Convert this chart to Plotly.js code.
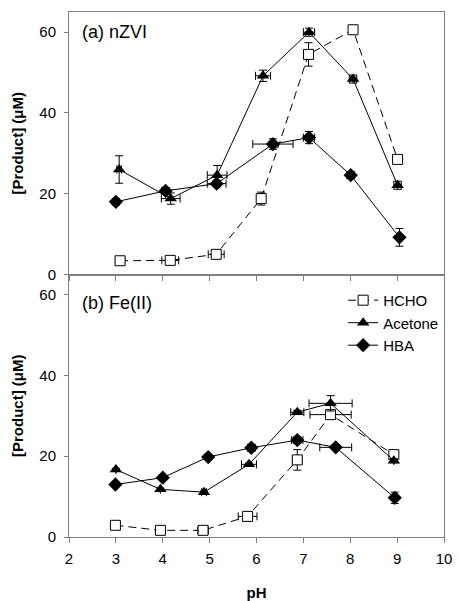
<!DOCTYPE html>
<html>
<head>
<meta charset="utf-8">
<script src="https://cdn.plot.ly/plotly-3.0.1.min.js"></script>
<style>html,body{margin:0;padding:0;background:#fff;}#chart{width:459px;height:601px;}</style>
</head>
<body>
<div id="chart"></div>
<script>
// ---- Data: (a) nZVI ----
var nzviHchoX   = [3.09, 4.16, 5.14, 6.10, 7.11, 8.06, 9.01];
var nzviHchoY   = [3.4, 3.5, 5.0, 18.8, 54.5, 60.6, 28.5];
var nzviHchoXe  = [0.10, 0.18, 0.17, 0.08, 0.08, 0.05, 0.05];
var nzviHchoYe  = [0.5, 0.5, 0.5, 1.6, 2.9, 0.5, 0.5];

var nzviAcetX   = [3.07, 4.17, 5.16, 6.14, 7.12, 8.06, 9.01];
var nzviAcetY   = [26.0, 18.8, 24.6, 49.2, 60.0, 48.4, 22.1];
var nzviAcetXe  = [0.05, 0.20, 0.21, 0.16, 0.12, 0.08, 0.08];
var nzviAcetYe  = [3.4, 1.4, 2.4, 1.4, 1.0, 1.0, 1.0];

var nzviHbaX    = [3.00, 4.06, 5.15, 6.35, 7.12, 8.01, 9.05];
var nzviHbaY    = [18.0, 20.7, 22.5, 32.3, 33.9, 24.6, 9.2];
var nzviHbaXe   = [0.05, 0.08, 0.20, 0.43, 0.12, 0.08, 0.05];
var nzviHbaYe   = [0.8, 0.8, 0.8, 1.3, 1.5, 0.8, 2.2];

// ---- Data: (b) Fe(II) ----
var feHchoX     = [2.99, 3.95, 4.86, 5.81, 6.87, 7.58, 8.93];
var feHchoY     = [2.9, 1.65, 1.65, 5.1, 19.1, 30.3, 20.4];
var feHchoXe    = [0.05, 0.05, 0.11, 0.20, 0.10, 0.44, 0.08];
var feHchoYe    = [1.0, 0.5, 0.5, 0.5, 2.55, 0.5, 1.0];

var feAcetX     = [3.00, 3.95, 4.88, 5.84, 6.87, 7.58, 8.93];
var feAcetY     = [16.7, 11.8, 11.1, 18.0, 30.9, 33.1, 18.9];
var feAcetXe    = [0.0, 0.0, 0.05, 0.16, 0.14, 0.46, 0.0];
var feAcetYe    = [0.3, 0.3, 0.3, 0.3, 0.5, 1.9, 0.5];

var feHbaX      = [2.99, 4.00, 4.97, 5.89, 6.87, 7.69, 8.95];
var feHbaY      = [13.0, 14.7, 19.8, 22.1, 24.0, 22.2, 9.7];
var feHbaXe     = [0.0, 0.0, 0.0, 0.08, 0.12, 0.34, 0.0];
var feHbaYe     = [0.5, 0.5, 0.5, 0.8, 0.8, 0.5, 1.4];

var seriesNames = ["HCHO", "Acetone", "HBA"];
var yTicks = [0, 20, 40, 60];
var xTicks = [2, 3, 4, 5, 6, 7, 8, 9, 10];

var FONT = "Liberation Sans, Arial, sans-serif";

function errs(xe, ye) {
  return {
    error_x: {type: "data", array: xe, visible: true, color: "#000", thickness: 1, width: 4},
    error_y: {type: "data", array: ye, visible: true, color: "#000", thickness: 1, width: 4}
  };
}
function trace(x, y, xe, ye, kind, xa, ya, showleg) {
  var t = {x: x, y: y, xaxis: xa, yaxis: ya, type: "scatter", mode: "lines+markers",
           name: seriesNames[kind], showlegend: showleg, cliponaxis: false};
  var e = errs(xe, ye);
  t.error_x = e.error_x; t.error_y = e.error_y;
  if (kind === 0) {
    t.line = {color: "#000", width: 1, dash: "8px,5px"};
    t.marker = {symbol: "square", size: 10, color: "#fff", line: {color: "#000", width: 1}};
  } else if (kind === 1) {
    t.line = {color: "#000", width: 1};
    t.marker = {symbol: "triangle-up", size: 11, color: "#000"};
  } else {
    t.line = {color: "#000", width: 1};
    t.marker = {symbol: "diamond", size: 11, color: "#000"};
  }
  return t;
}

var data = [
  trace(nzviHchoX, nzviHchoY, nzviHchoXe, nzviHchoYe, 0, "x", "y", false),
  trace(nzviAcetX, nzviAcetY, nzviAcetXe, nzviAcetYe, 1, "x", "y", false),
  trace(nzviHbaX, nzviHbaY, nzviHbaXe, nzviHbaYe, 2, "x", "y", false),
  trace(feHchoX, feHchoY, feHchoXe, feHchoYe, 0, "x2", "y2", true),
  trace(feAcetX, feAcetY, feAcetXe, feAcetYe, 1, "x2", "y2", true),
  trace(feHbaX, feHbaY, feHbaXe, feHbaYe, 2, "x2", "y2", true)
];

var AX = "#808080";
function yAxis(domain, anchor) {
  return {domain: domain, anchor: anchor, range: [0, 65], tickvals: yTicks,
    ticks: "outside", ticklen: 4, tickcolor: AX, showline: true, linecolor: AX, linewidth: 1,
    mirror: true, showgrid: false, zeroline: false, ticklabelstandoff: 5,
    tickfont: {family: FONT, size: 15, color: "#000"},
    title: {text: "<b>[Product] (μM)</b>", font: {family: FONT, size: 15, color: "#000"}, standoff: 12}};
}
function xAxis(anchor, labels) {
  var a = {anchor: anchor, domain: [0, 1], range: [2, 10], tickvals: xTicks,
    ticks: "outside", ticklen: 5, tickcolor: AX, showline: true, linecolor: AX, linewidth: 1,
    mirror: true, showgrid: false, zeroline: false, showticklabels: labels,
    ticklabelstandoff: 3,
    tickfont: {family: FONT, size: 15, color: "#000"}};
  if (labels) a.title = {text: "<b>pH</b>", font: {family: FONT, size: 15, color: "#000"}, standoff: 24};
  return a;
}

var layout = {
  width: 459, height: 601,
  margin: {l: 69, r: 15, t: 12, b: 64, pad: 0},
  paper_bgcolor: "#fff", plot_bgcolor: "#fff",
  font: {family: FONT, size: 15, color: "#000"},
  xaxis: xAxis("y", false),
  yaxis: yAxis([0.5, 1], "x"),
  xaxis2: xAxis("y2", true),
  yaxis2: yAxis([0, 0.5], "x2"),
  showlegend: true,
  legend: {x: 0.731, y: 0.482, xanchor: "left", yanchor: "top", bgcolor: "rgba(0,0,0,0)",
           font: {family: FONT, size: 15, color: "#000"}, tracegroupgap: 0},
  annotations: [
    {text: "(a) nZVI", xref: "paper", yref: "y", x: 0.029, y: 60, xanchor: "left", yanchor: "middle",
     showarrow: false, font: {family: FONT, size: 18, color: "#000"}},
    {text: "(b) Fe(II)", xref: "paper", yref: "y2", x: 0.029, y: 58, xanchor: "left", yanchor: "middle",
     showarrow: false, font: {family: FONT, size: 18, color: "#000"}}
  ]
};

Plotly.newPlot("chart", data, layout, {displayModeBar: false, staticPlot: true});
</script>
</body>
</html>
